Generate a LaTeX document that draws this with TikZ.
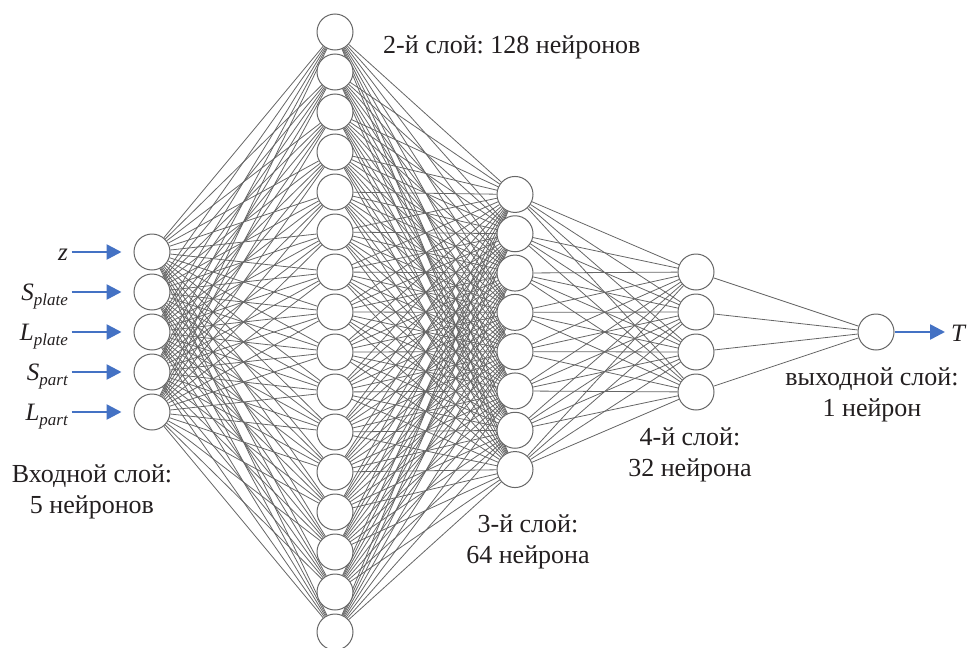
\documentclass[tikz,border=0pt]{standalone}
\usepackage{fontspec}
\setmainfont{Liberation Serif}
\usetikzlibrary{arrows.meta,backgrounds}
\definecolor{edgegray}{HTML}{666666}
\definecolor{arrowblue}{HTML}{4472C4}
\definecolor{txt}{HTML}{231F20}
\newcommand{\nnsub}[1]{\raisebox{-5pt}{\fontsize{17}{17}\selectfont\itshape #1}}
\frenchspacing
\begin{document}
\begin{tikzpicture}[x=1pt,y=-1pt,
  neuron/.style={circle,draw=edgegray,line width=1pt,fill=white,minimum size=36pt,inner sep=0pt},
  edge/.style={draw=edgegray,line width=0.8pt},
  inarrow/.style={draw=arrowblue,line width=2.6pt,-{Triangle[length=15pt,width=15pt]}},
  lbl/.style={font=\fontsize{26}{31}\selectfont,text=txt,align=center,inner sep=0pt},
  var/.style={font=\fontsize{25}{25}\selectfont\itshape,text=txt,inner sep=0pt}]
\useasboundingbox (0,0) rectangle (967,648);

% layers
\foreach \i in {1,...,5}
  \node[neuron] (a\i) at (152,{332+40*(\i-3)}) {};
\foreach \j in {1,...,16}
  \node[neuron] (b\j) at (335,{32+40*(\j-1)}) {};
\foreach \k in {1,...,8}
  \node[neuron] (c\k) at (515,{332+39.3*(\k-4.5)}) {};
\foreach \m in {1,...,4}
  \node[neuron] (d\m) at (696,{332+40*(\m-2.5)}) {};
\node[neuron] (o) at (876,332) {};

% connections
\begin{scope}[on background layer]
  \foreach \i in {1,...,5}
    \foreach \j in {1,...,16}
      \draw[edge] (a\i) -- (b\j);
  \foreach \j in {1,...,16}
    \foreach \k in {1,...,8}
      \draw[edge] (b\j) -- (c\k);
  \foreach \k in {1,...,8}
    \foreach \m in {1,...,4}
      \draw[edge] (c\k) -- (d\m);
  \foreach \m in {1,...,4}
    \draw[edge] (d\m) -- (o);
\end{scope}

% inputs
\foreach \lab [count=\i] in {{z},{S\nnsub{plate}},{L\nnsub{plate}},{S\nnsub{part}},{L\nnsub{part}}} {
  \node[var,anchor=base east] (in\i) at (68,{332+40*(\i-3)+8}) {\lab};
  \draw[inarrow] ([xshift=-62pt]a\i.west) -- ([xshift=-12pt]a\i.west);
}

% output
\coordinate (tend) at (945,332);
\draw[inarrow] (o) -- (tend);
\node[var,anchor=base west] (tl) at (951,341) {T};

% layer labels (base = baseline of the last line)
\node[lbl,anchor=base west] (l2) at (383,53) {2-й слой: 128 нейронов};
\node[lbl,anchor=base] (l1) at (92,513) {Входной слой:\\5 нейронов};
\node[lbl,anchor=base] (l3) at (528,563) {3-й слой:\\64 нейрона};
\node[lbl,anchor=base] (l4) at (690,476) {4-й слой:\\32 нейрона};
\node[lbl,anchor=base] (l5) at (872,416) {выходной слой:\\1 нейрон};
\end{tikzpicture}
\end{document}
